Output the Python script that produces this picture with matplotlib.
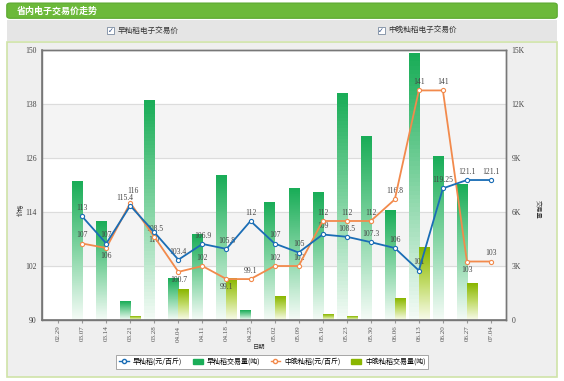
import numpy as np
import matplotlib.pyplot as plt
from matplotlib.patches import Rectangle, FancyBboxPatch
from matplotlib.lines import Line2D
from matplotlib.colors import LinearSegmentedColormap

plt.rcParams['font.family'] = ['Liberation Serif', 'Noto Sans CJK SC', 'DejaVu Sans']

dates = ["02.29", "03.07", "03.14", "03.21", "03.28", "04.04", "04.11", "04.18", "04.25", "05.02",
         "05.09", "05.16", "05.23", "05.30", "06.06", "06.13", "06.20", "06.27", "07.04"]

# prices (yuan / 100 jin), None = no trade
early_price = [None, 113, 107, 115.4, 109.5, 103.4, 106.9, 105.8, 112, 107,
               105, 109, 108.5, 107.3, 106, 101, 119.25, 121.1, 121.1]
late_price = [None, 107, 106, 116, 108.5, 100.7, 102, 99.1, 99.1, 102,
              102, 112, 112, 112, 116.8, 141, 141, 103, 103]
early_labels = ["", "113", "107", "115.4", "110", "103.4", "106.9", "105.8", "112", "107",
                "105", "109", "108.5", "107.3", "106", "101", "119.25", "121.1", "121.1"]
late_labels = ["", "107", "106", "116", "108.5", "100.7", "102", "99.1", "99.1", "102",
               "102", "112", "112", "112", "116.8", "141", "141", "103", "103"]
early_below = [False, False, False, False, True, False, False, False, False, False,
               False, False, False, False, False, False, False, False, False]
late_below = [False, False, True, False, False, True, False, True, False, False,
              False, False, False, False, False, False, False, True, False]

# volumes (tonnes)
early_vol = [0, 7700, 5450, 1000, 12200, 2280, 4720, 8050, 550, 6500,
             7280, 7100, 12600, 10200, 6100, 14800, 9100, 7500, 0]
late_vol = [0, 0, 0, 220, 0, 1720, 0, 2280, 0, 1280,
            0, 280, 220, 0, 1220, 4000, 0, 2000, 0]

BLUE = "#1a6db5"
ORANGE = "#f28a4c"
GREEN = "#1aad58"
YGREEN = "#8ab600"
CJK = ["Noto Sans CJK SC", "DejaVu Sans"]

fig = plt.figure(figsize=(5.64, 3.81), dpi=100)

# page background pieces
fig.patches.append(Rectangle((0, 0), 1, 1, transform=fig.transFigure, color="white", zorder=-10))
fig.patches.append(Rectangle((0.012, 0.01), 0.976, 0.88, transform=fig.transFigure,
                             facecolor="#efefef", edgecolor="#cfe3a8", lw=1.2, zorder=-9))
fig.patches.append(Rectangle((0.012, 0.893), 0.976, 0.055, transform=fig.transFigure,
                             facecolor="#e5e5e5", edgecolor="none", zorder=-9))
fig.patches.append(FancyBboxPatch((0.012, 0.952), 0.976, 0.04, boxstyle="round,pad=0,rounding_size=0.006",
                                  transform=fig.transFigure, facecolor="#6cb93a", edgecolor="#5aa82e",
                                  lw=0.8, zorder=-9))
fig.text(0.03, 0.972, "省内电子交易价走势", color="white", fontsize=6.5, fontweight="bold",
         va="center", family=CJK)

# checkboxes
for cx, txt in [(0.19, "早籼稻电子交易价"), (0.67, "中晚籼稻电子交易价")]:
    fig.patches.append(Rectangle((cx, 0.911), 0.012, 0.018, transform=fig.transFigure,
                                 facecolor="white", edgecolor="#7a8aa0", lw=0.6))
    fig.text(cx + 0.006, 0.919, "✓", fontsize=5, ha="center", va="center", color="#2a4a80",
             family=["DejaVu Sans"])
    fig.text(cx + 0.018, 0.919, txt, fontsize=5.5, va="center", color="#333333", family=CJK)

ax = fig.add_axes([0.0745, 0.160, 0.8225, 0.709])
ax.set_facecolor("white")
ax2 = ax.twinx()

x = np.arange(len(dates))
w = 0.42

# volume bars with vertical gradient (on ax, ticks on right)
bars1 = ax.bar(x - w / 2, early_vol, width=w, color="none", zorder=2)
bars2 = ax.bar(x + w / 2, late_vol, width=w, color="none", zorder=2)
grad = np.linspace(1, 0, 64).reshape(-1, 1)
cm1 = LinearSegmentedColormap.from_list("g", ["#f4fbf6", "#84d5a4", GREEN])
cm2 = LinearSegmentedColormap.from_list("y", ["#f8fbea", "#c2dc6a", YGREEN])
for bars, cm in [(bars1, cm1), (bars2, cm2)]:
    for b in bars:
        h = b.get_height()
        if h <= 0:
            continue
        ax.imshow(grad, extent=[b.get_x(), b.get_x() + b.get_width(), 0, h],
                  aspect="auto", cmap=cm, vmin=0, vmax=1, zorder=2)

# alternating bands and grid
ax.set_ylim(0, 15000)
ax.set_xlim(-0.67, 18.62)
for lo in (102, 126):
    ax.axhspan((lo - 90) * 250, (lo - 78) * 250, color="#f4f4f4", zorder=0)
for v in range(3000, 15000, 3000):
    ax.axhline(v, color="#dcdcdc", lw=0.8, zorder=1)

ax.yaxis.tick_right()
ax.set_yticks([0, 3000, 6000, 9000, 12000, 15000])
ax.set_yticklabels(["0", "3K", "6K", "9K", "12K", "15K"])
ax.tick_params(axis="y", length=0, labelsize=5.5, labelcolor="#444444", pad=4)
ax.set_xticks(x)
ax.set_xticklabels(dates, rotation=90)
ax.tick_params(axis="x", length=2, color="#999999", labelsize=5, labelcolor="#555555", pad=2)

# price lines (on twin axis, ticks on left)
xe = [i for i, v in enumerate(early_price) if v is not None]
ye = [early_price[i] for i in xe]
xl = [i for i, v in enumerate(late_price) if v is not None]
yl = [late_price[i] for i in xl]
ax2.plot(xl, yl, color=ORANGE, lw=1.3, marker="o", ms=3, mfc="white", mec=ORANGE, mew=0.8, zorder=4)
ax2.plot(xe, ye, color=BLUE, lw=1.3, marker="o", ms=3, mfc="white", mec=BLUE, mew=0.8, zorder=5)
for vals, labs, below, dx in [(early_price, early_labels, early_below, -4),
                              (late_price, late_labels, late_below, 2)]:
    for i, v in enumerate(vals):
        if v is None:
            continue
        dy = -3 if below[i] else 3
        ox = dx if i == 3 else 0
        if i == 3 and dx > 0:
            dy = 6
        ax2.annotate(labs[i], (i, v), xytext=(ox, dy), textcoords="offset points",
                     ha="center", va="top" if below[i] else "bottom", fontsize=5.5, color="#444444")

ax2.set_ylim(90, 150)
ax2.yaxis.tick_left()
ax2.set_yticks([90, 102, 114, 126, 138, 150])
ax2.tick_params(axis="y", length=0, labelsize=5.5, labelcolor="#444444", pad=4)

for a in (ax, ax2):
    for s in a.spines.values():
        s.set_color("#777777")
        s.set_linewidth(1.0)
ax2.spines["left"].set_linewidth(1.2)
ax2.spines["bottom"].set_linewidth(1.2)

fig.text(0.038, 0.45, "价格", rotation=90, fontsize=4.5, ha="center", va="center", color="#333333",
         family=CJK)
fig.text(0.952, 0.45, "交易量", rotation=270, fontsize=4.5, ha="center", va="center", color="#333333",
         family=CJK)
fig.text(0.46, 0.09, "日期", fontsize=4.5, ha="center", va="center", color="#333333", family=CJK)

handles = [
    Line2D([], [], color=BLUE, lw=1, marker="o", ms=3, mfc="white", mec=BLUE),
    Rectangle((0, 0), 1, 1, color=GREEN),
    Line2D([], [], color=ORANGE, lw=1, marker="o", ms=3, mfc="white", mec=ORANGE),
    Rectangle((0, 0), 1, 1, color=YGREEN),
]
labels = ["早籼稻(元/百斤)", "早籼稻交易量(吨)", "中晚籼稻(元/百斤)", "中晚籼稻交易量(吨)"]
leg = fig.legend(handles, labels, loc="center", bbox_to_anchor=(0.483, 0.05), ncol=4,
                 prop={"family": CJK, "size": 5},
                 frameon=True, fancybox=False, edgecolor="#999999", framealpha=1,
                 handlelength=1.4, handleheight=0.8, columnspacing=1.5, borderpad=0.4,
                 handletextpad=0.6)
leg.get_frame().set_linewidth(0.6)

fig.savefig("out.png", dpi=100)
